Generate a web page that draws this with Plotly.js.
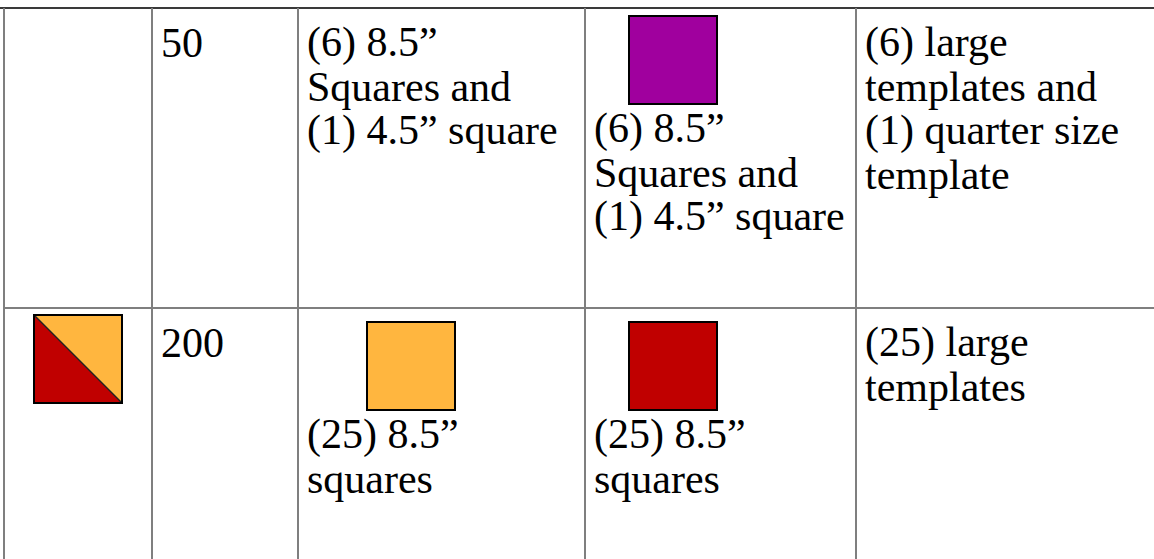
<!DOCTYPE html>
<html>
<head>
<meta charset="utf-8">
<script src="https://cdn.plot.ly/plotly-3.0.1.min.js"></script>
<style>html,body{margin:0;padding:0;background:#fff;}#chart{width:1154px;height:559px;}</style>
</head>
<body>
<div id="chart"></div>
<script>
// ---- data ----
const quantities = ["50", "200"];
const cutTextA = [
  ["(6) 8.5\u201D", "Squares and", "(1) 4.5\u201D square"],
  ["(25) 8.5\u201D", "squares"]
];
const cutTextB = [
  ["(6) 8.5\u201D", "Squares and", "(1) 4.5\u201D square"],
  ["(25) 8.5\u201D", "squares"]
];
const templateText = [
  ["(6) large", "templates and", "(1) quarter size", "template"],
  ["(25) large", "templates"]
];
const swatchA = [null, "#ffb63f"];
const swatchB = ["#a0009e", "#c00000"];
const blockColors = [null, ["#c00000", "#ffb63f"]];

// ---- layout constants ----
const W = 1154, H = 559;
const colX = [4, 152, 298, 585, 856];
const rowY = [8, 308];
const pad = 8;
const FS = 42;
const pitch = 44;
const firstBase = 49;      // baseline offset from row top
const swatchSize = 88;
const swatchTop = 8;       // from row top to swatch top
const swatchGap = 39;      // swatch bottom to first baseline
const swatchAX = 367, swatchBX = 629, blockX = 34;
const font = {family: "Liberation Serif, Times New Roman, serif", size: FS, color: "#000"};

const shapes = [];
const annotations = [];
const lineCol = "#7f7f7f";

// grid lines
shapes.push({type: "line", x0: 0, x1: W, y0: rowY[0], y1: rowY[0], line: {color: "#3a3a3a", width: 2}});
shapes.push({type: "line", x0: colX[0], x1: W, y0: rowY[1], y1: rowY[1], line: {color: lineCol, width: 2}});
colX.forEach(x => shapes.push({type: "line", x0: x, x1: x, y0: rowY[0], y1: H, line: {color: lineCol, width: 2}}));

// baseline -> annotation center (Liberation Serif: ascent .891, descent .216)
const mid = b => b - 0.891 * FS + (0.891 + 0.216) * FS / 2;

function addLines(lines, x, base) {
  lines.forEach((t, i) => annotations.push({
    x: x, y: mid(base + i * pitch), xref: "x", yref: "y", text: t, showarrow: false,
    xanchor: "left", yanchor: "middle", align: "left", font: font, borderpad: 0
  }));
}

function addSwatch(x, top, color) {
  shapes.push({type: "rect", x0: x, x1: x + swatchSize, y0: top, y1: top + swatchSize,
    fillcolor: color, line: {color: "#000", width: 2}});
}

for (let r = 0; r < 2; r++) {
  const top = rowY[r];
  // column 0 block
  if (blockColors[r]) {
    const [lo, hi] = blockColors[r];
    const x0 = blockX, x1 = blockX + swatchSize, y0 = top + swatchTop - 1, y1 = y0 + swatchSize;
    shapes.push({type: "path", path: `M${x0},${y0} L${x0},${y1} L${x1},${y1} Z`, fillcolor: lo, line: {width: 0}});
    shapes.push({type: "path", path: `M${x0},${y0} L${x1},${y0} L${x1},${y1} Z`, fillcolor: hi, line: {width: 0}});
    shapes.push({type: "line", x0: x0, y0: y0, x1: x1, y1: y1, line: {color: "#222", width: 1.5}});
    shapes.push({type: "rect", x0: x0, x1: x1, y0: y0, y1: y1, line: {color: "#000", width: 2}});
  }
  // quantity
  addLines([quantities[r]], colX[1] + pad, top + firstBase);
  // column 2
  if (swatchA[r]) {
    addSwatch(swatchAX, top + swatchTop + 6, swatchA[r]);
    addLines(cutTextA[r], colX[2] + pad, top + swatchTop + 6 + swatchSize + swatchGap);
  } else {
    addLines(cutTextA[r], colX[2] + pad, top + firstBase);
  }
  // column 3
  if (swatchB[r]) {
    const st = top + swatchTop + (r === 0 ? 0 : 6);
    addSwatch(swatchBX, st, swatchB[r]);
    addLines(cutTextB[r], colX[3] + pad, st + swatchSize + swatchGap);
  } else {
    addLines(cutTextB[r], colX[3] + pad, top + firstBase);
  }
  // column 4
  addLines(templateText[r], colX[4] + pad, top + firstBase);
}

const layout = {
  width: W, height: H,
  margin: {l: 0, r: 0, t: 0, b: 0},
  paper_bgcolor: "#fff", plot_bgcolor: "#fff",
  xaxis: {range: [0, W], visible: false, fixedrange: true},
  yaxis: {range: [H, 0], visible: false, fixedrange: true},
  shapes: shapes, annotations: annotations, showlegend: false
};
Plotly.newPlot("chart", [], layout, {staticPlot: true, displayModeBar: false});
</script>
</body>
</html>
